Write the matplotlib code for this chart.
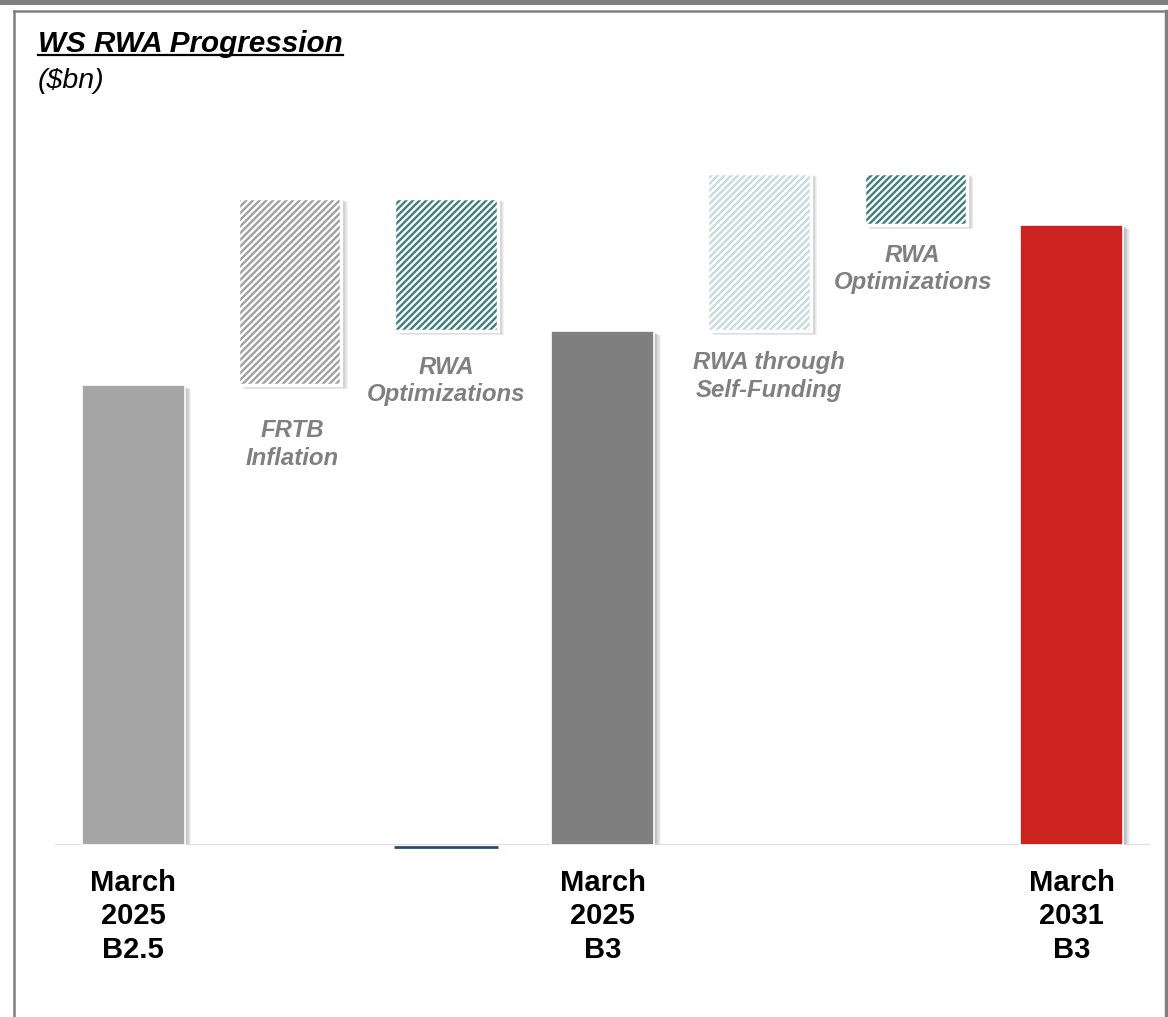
import numpy as np
import matplotlib.pyplot as plt
from matplotlib.lines import Line2D
from matplotlib.patches import Rectangle
from matplotlib.transforms import offset_copy

plt.rcParams['font.family'] = ['Liberation Sans', 'DejaVu Sans']
plt.rcParams['hatch.linewidth'] = 1.7

# waterfall data ($bn; no axis values shown)
steps = ['March\n2025\nB2.5', 'FRTB\nInflation', 'RWA\nOptimizations', 'March\n2025\nB3',
         'RWA through\nSelf-Funding', 'RWA\nOptimizations', 'March\n2031\nB3']
kinds = ['total', 'delta', 'delta', 'total', 'delta', 'delta', 'total']
values = [46.0, 18.7, -13.3, 51.4, 15.8, -5.2, 62.0]
colors = ['#A6A6A6', '#A0A0A0', '#3E7E7E', '#7F7F7F', '#C6DCDC', '#3E7E7E', '#CC2320']
label_pad = [0, 24.5, 18, 0, 14.5, 13.5, 0]   # points below floating bar
label_dx = [0, 2, 0, 0, 7, -2, 0]

# running bottoms / heights
bottoms, heights = [], []
level = 0.0
for k, v in zip(kinds, values):
    if k == 'total':
        bottoms.append(0.0)
        heights.append(v)
        level = v
    else:
        if v >= 0:
            bottoms.append(level)
            heights.append(v)
        else:
            bottoms.append(level + v)
            heights.append(-v)
        level += v

fig = plt.figure(figsize=(11.68, 10.17), dpi=100)
ax = fig.add_axes([55/1168, 172/1017, 1095/1168, 725/1017])
x = np.arange(len(steps))
w = 0.66

# soft shadow
for i in range(1, 9):
    tr = offset_copy(ax.transData, fig=fig, x=i*0.8, y=-i*0.5, units='dots')
    ax.bar(x, heights, w, bottom=bottoms, color='#808080', alpha=0.09, transform=tr, zorder=1)

for i in range(len(steps)):
    if kinds[i] == 'total':
        ax.bar(x[i], heights[i], w, bottom=bottoms[i], color=colors[i],
               edgecolor='white', linewidth=1.2, zorder=2)
    else:
        ax.bar(x[i], heights[i], w, bottom=bottoms[i], color='white', zorder=2)
        ax.bar(x[i], heights[i], w, bottom=bottoms[i], facecolor='white',
               edgecolor=colors[i], hatch='/////', linewidth=0, zorder=3)
        ax.bar(x[i], heights[i], w, bottom=bottoms[i], fill=False,
               edgecolor='white', linewidth=2.5, zorder=4)
        ax.annotate(steps[i], (x[i], bottoms[i]), xytext=(label_dx[i], -label_pad[i]),
                    textcoords='offset points', ha='center', va='top',
                    fontsize=17.3, fontweight='bold', fontstyle='italic',
                    color='#808080', linespacing=1.25)

ax.axhline(0, color='#D9D9D9', lw=2, zorder=1)
ax.hlines(-0.15, x[2] - w/2, x[2] + w/2, color='#1F4E79', lw=2, zorder=5, clip_on=False)

ax.set_xlim(-0.5, 6.5)
ax.set_ylim(0, 72.5)
tot = [i for i in range(len(steps)) if kinds[i] == 'total']
ax.set_xticks(x[tot])
ax.set_xticklabels([steps[i] for i in tot], fontsize=21, fontweight='bold',
                   linespacing=1.26)
ax.tick_params(axis='x', length=0, pad=17)
ax.set_yticks([])
for s in ax.spines.values():
    s.set_visible(False)

# frame
fig.add_artist(Rectangle((0, 1 - 5/1017), 1, 5/1017, transform=fig.transFigure,
                         color='#7F7F7F', lw=0))
fig.add_artist(Line2D([14/1168, 1166/1168], [1 - 11/1017, 1 - 11/1017],
                      color='#808080', lw=1.8))
fig.add_artist(Line2D([14/1168, 14/1168], [0, 1 - 11/1017], color='#808080', lw=1.8))
fig.add_artist(Line2D([1166/1168, 1166/1168], [0, 1 - 11/1017], color='#808080', lw=2.5))

t = fig.text(38/1168, 1 - 52/1017, 'WS RWA Progression', fontsize=21.3,
             fontweight='bold', fontstyle='italic', va='baseline')
fig.text(38/1168, 1 - 88/1017, '($bn)', fontsize=20.5, fontstyle='italic', va='baseline')
fig.canvas.draw()
bb = t.get_window_extent().transformed(fig.transFigure.inverted())
fig.add_artist(Line2D([bb.x0, bb.x1], [1 - 55/1017, 1 - 55/1017], color='black', lw=1.6))

fig.savefig('out.png', dpi=100)
